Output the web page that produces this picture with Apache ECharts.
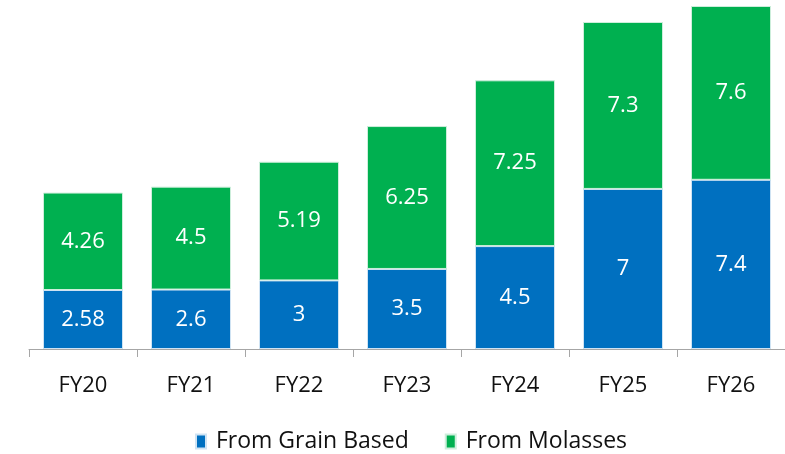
<!DOCTYPE html>
<html><head><meta charset="utf-8">
<script src="https://cdn.jsdelivr.net/npm/echarts@6/dist/echarts.min.js"></script>
<style>html,body{margin:0;padding:0;background:#fff}#c{width:785px;height:454px}</style>
</head><body><div id="c"></div>
<script>
const categories = ['FY20','FY21','FY22','FY23','FY24','FY25','FY26'];
const grainBased = [2.58, 2.6, 3, 3.5, 4.5, 7, 7.4];
const molasses = [4.26, 4.5, 5.19, 6.25, 7.25, 7.3, 7.6];
const seriesNames = ['From Grain Based','From Molasses'];
const FONT = 'Open Sans';
const chart = echarts.init(document.getElementById('c'));
chart.setOption({
  animation:false,
  textStyle:{fontFamily:FONT},
  grid:{left:29,right:0,top:6,bottom:105},
  legend:{top:430,left:195,padding:0,itemWidth:10,itemHeight:14,itemGap:36,icon:'rect',
    textStyle:{fontFamily:FONT,fontSize:23,color:'#111',padding:[0,0,0,5]},data:seriesNames},
  xAxis:{type:'category',data:categories,
    axisLine:{lineStyle:{color:'#a6a6a6',width:1}},
    axisTick:{show:true,length:8,lineStyle:{color:'#a6a6a6'}},
    axisLabel:{fontFamily:FONT,fontSize:22,color:'#111',margin:26}},
  yAxis:{type:'value',min:0,max:15,show:false,splitLine:{show:false}},
  series:[
    {name:seriesNames[0],type:'bar',stack:'t',data:grainBased,barWidth:80,
     itemStyle:{color:'#0070C0',borderColor:'#cfe3f3',borderWidth:1},
     label:{show:true,position:'inside',color:'#fff',fontSize:22,fontFamily:FONT}},
    {name:seriesNames[1],type:'bar',stack:'t',data:molasses,barWidth:80,
     itemStyle:{color:'#00B050',borderColor:'#cdeedb',borderWidth:1},
     label:{show:true,position:'inside',color:'#fff',fontSize:22,fontFamily:FONT}}
  ]
});
</script></body></html>
